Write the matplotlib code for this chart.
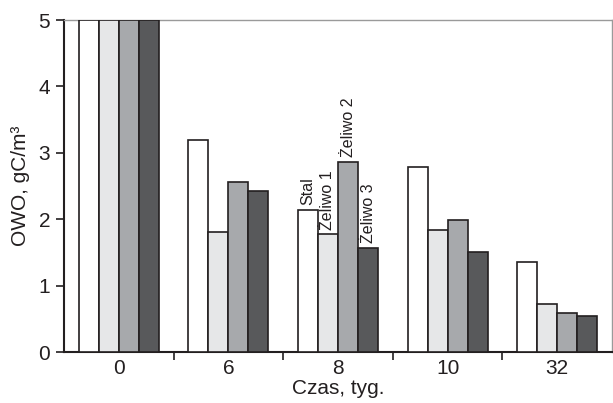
import matplotlib
matplotlib.use("Agg")
import matplotlib.pyplot as plt
import numpy as np

plt.rcParams['font.family'] = ['Liberation Sans', 'DejaVu Sans']

categories = ["0", "6", "8", "10", "32"]
series_names = ["Stal", "Żeliwo 1", "Żeliwo 2", "Żeliwo 3"]
stal = [5.0, 3.20, 2.14, 2.79, 1.36]
zeliwo1 = [5.0, 1.81, 1.77, 1.84, 0.72]
zeliwo2 = [5.0, 2.56, 2.86, 1.99, 0.59]
zeliwo3 = [5.0, 2.42, 1.57, 1.51, 0.54]
series = [stal, zeliwo1, zeliwo2, zeliwo3]
colors = ["#ffffff", "#e6e7e8", "#a7a9ac", "#58595b"]
edge = "#231f20"

fig = plt.figure(figsize=(6.13, 4.03), dpi=100)
ax = fig.add_axes([64/613, 1-352/403, 548/613, 332/403])

x = np.arange(len(categories))
w = 0.1825
for i, (vals, c) in enumerate(zip(series, colors)):
    ax.bar(x + (i - 1.5) * w, vals, width=w, color=c, edgecolor=edge,
           linewidth=1.2, zorder=3)

# labels above group "8"
gi = 2
for i, name in enumerate(series_names):
    ax.annotate(name, xy=(x[gi] + (i - 1.5) * w, series[i][gi]),
                xytext=(0, 3.5), textcoords='offset points',
                ha='center', va='bottom', rotation=90, fontsize=11.5,
                color='#231f20')

ax.set_xlim(-0.5, 4.5)
ax.set_ylim(0, 5)
ax.set_yticks([0, 1, 2, 3, 4, 5])
ax.set_xticks(x[:-1] + 0.5)
ax.set_xticklabels([])
ax.set_xticks(x, minor=True)
ax.set_xticklabels(categories, minor=True)
ax.tick_params(axis='x', which='major', length=6, width=1.2, color=edge, direction='out')
ax.tick_params(axis='x', which='minor', length=0, pad=5, labelsize=15, labelcolor='#231f20')
ax.tick_params(axis='y', length=6, width=1.2, color=edge, direction='out', pad=4,
               labelsize=15, labelcolor='#231f20')

for s in ['left', 'bottom']:
    ax.spines[s].set_color(edge)
    ax.spines[s].set_linewidth(1.5)
for s in ['top', 'right']:
    ax.spines[s].set_color('#9a9a9a')
    ax.spines[s].set_linewidth(1.0)

ax.set_xlabel("Czas, tyg.", fontsize=15, color='#231f20', labelpad=1)
ax.set_ylabel("OWO, gC/m³", fontsize=15, color='#231f20', labelpad=6)

fig.savefig("out.png", dpi=100)
